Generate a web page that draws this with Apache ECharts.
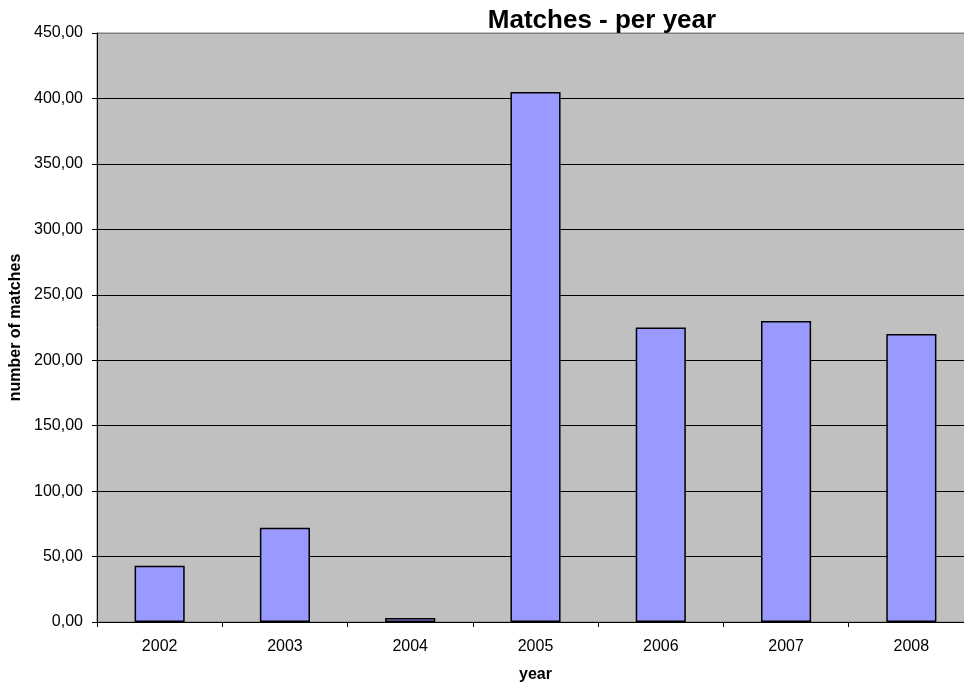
<!DOCTYPE html>
<html>
<head>
<meta charset="utf-8">
<script src="https://cdn.jsdelivr.net/npm/echarts@6/dist/echarts.min.js"></script>
<style>html,body{margin:0;padding:0;background:#fff}#c{width:964px;height:686px}</style>
</head>
<body>
<div id="c"></div>
<script>
var categories = ['2002', '2003', '2004', '2005', '2006', '2007', '2008'];
var matches = [43, 72, 3, 405, 225, 230, 220];
var yTicks = { min: 0, max: 450, interval: 50 };

var font = '"Liberation Sans", Arial, sans-serif';
var chart = echarts.init(document.getElementById('c'), null, { renderer: 'canvas' });
chart.setOption({
  animation: false,
  backgroundColor: '#ffffff',
  title: {
    text: 'Matches - per year',
    left: 597,
    textAlign: 'center',
    top: 3,
    textStyle: { fontFamily: font, fontSize: 26, fontWeight: 'bold', color: '#000' }
  },
  grid: {
    left: 97, top: 33, bottom: 64, right: -10,
    show: true, backgroundColor: '#C0C0C0', borderColor: '#808080', borderWidth: 1,
    outerBoundsMode: 'none', containLabel: false
  },
  xAxis: {
    type: 'category',
    data: categories,
    name: 'year',
    nameLocation: 'middle',
    nameGap: 45,
    nameTextStyle: { fontFamily: font, fontSize: 16, fontWeight: 'bold', color: '#000' },
    axisLine: { lineStyle: { color: '#000', width: 1 } },
    axisTick: { show: true, length: 5, inside: false, lineStyle: { color: '#000' } },
    axisLabel: { fontFamily: font, fontSize: 16, color: '#000', margin: 17 },
    splitLine: { show: false }
  },
  yAxis: {
    type: 'value',
    min: yTicks.min, max: yTicks.max, interval: yTicks.interval,
    name: 'number of matches',
    nameLocation: 'middle',
    nameRotate: 90,
    nameGap: 79,
    nameTextStyle: { fontFamily: font, fontSize: 16, fontWeight: 'bold', color: '#000', verticalAlign: 'middle' },
    axisLine: { show: true, lineStyle: { color: '#000', width: 1 } },
    axisTick: { show: true, length: 5, lineStyle: { color: '#000' } },
    axisLabel: {
      fontFamily: font, fontSize: 16, color: '#000', margin: 14,
      formatter: function (v) { return v.toFixed(2).replace('.', ','); }
    },
    splitLine: { show: true, lineStyle: { color: ['#000','#000','#000','#000','#000','#000','#000','#000','#000','#808080'], width: 1 } }
  },
  series: [{
    type: 'bar',
    data: matches,
    barCategoryGap: '60%',
    itemStyle: { color: '#9999FF', borderColor: '#000', borderWidth: 1.5 }
  }]
});
</script>
</body>
</html>
